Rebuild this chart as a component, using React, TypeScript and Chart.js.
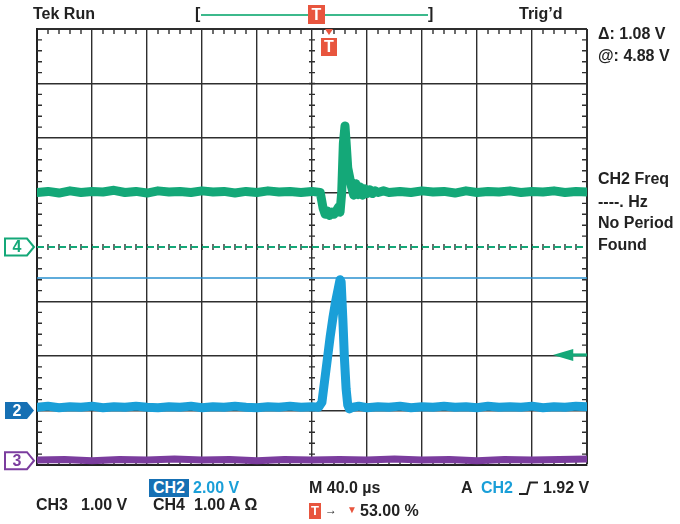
import React, { useEffect, useRef } from "react";
import { Chart, registerables } from "chart.js";

Chart.register(...registerables);

// ---- data (x in horizontal divisions 0..10, y in vertical divisions 0..8) ----
const greenX = [0,0.2,0.4,0.6,0.8,1,1.2,1.4,1.6,1.8,2,2.2,2.4,2.6,2.8,3,3.2,3.4,3.6,3.8,4,4.2,4.4,4.6,4.8,5,
  5.15,5.2,5.24,5.28,5.32,5.36,5.4,5.44,5.48,5.51,
  5.54,5.57,5.6,5.62,5.65,5.68,5.72,5.76,5.8,5.84,5.88,5.92,5.96,6,
  6.05,6.1,6.15,6.2,6.3,6.4,
  6.6,6.8,7,7.2,7.4,7.6,7.8,8,8.2,8.4,8.6,8.8,9,9.2,9.4,9.6,9.8,10];
const greenY = [5.0,5.02,4.99,5.03,5.0,5.02,5.01,5.04,5.0,5.02,4.99,5.03,5.01,5.02,5.0,5.03,5.01,5.02,4.99,5.02,5.0,5.03,5.01,5.02,5.0,5.02,
  5.0,4.72,4.6,4.66,4.58,4.64,4.6,4.66,4.73,4.64,
  5.0,5.9,6.22,5.92,5.45,5.3,5.1,4.95,5.16,4.96,5.1,4.95,5.07,4.98,
  5.05,4.98,5.03,5.0,5.03,5.0,
  5.02,5.0,5.03,5.01,5.02,4.99,5.03,5.0,5.02,5.01,5.03,5.0,5.02,5.01,5.03,5.0,5.02,5.01];

const blueX = [0,0.2,0.4,0.6,0.8,1,1.2,1.4,1.6,1.8,2,2.2,2.4,2.6,2.8,3,3.2,3.4,3.6,3.8,4,4.2,4.4,4.6,4.8,5,
  5.12,5.18,5.23,5.28,5.33,5.38,5.43,5.48,5.51,5.53,5.56,5.59,5.62,5.65,5.68,
  5.75,5.85,6,
  6.2,6.4,6.6,6.8,7,7.2,7.4,7.6,7.8,8,8.2,8.4,8.6,8.8,9,9.2,9.4,9.6,9.8,10];
const blueY = [1.06,1.08,1.05,1.07,1.06,1.08,1.05,1.07,1.06,1.08,1.06,1.05,1.07,1.06,1.08,1.05,1.07,1.06,1.08,1.06,1.05,1.07,1.06,1.08,1.06,1.07,
  1.06,1.15,1.55,1.95,2.35,2.7,3.0,3.25,3.4,3.36,2.7,1.95,1.4,1.1,1.03,
  1.06,1.08,1.05,
  1.07,1.06,1.08,1.05,1.07,1.06,1.08,1.06,1.07,1.05,1.08,1.06,1.07,1.06,1.08,1.05,1.07,1.06,1.08,1.07];

const purpleX = [0,0.5,1,1.5,2,2.5,3,3.5,4,4.5,5,5.5,6,6.5,7,7.5,8,8.5,9,9.5,10];
const purpleY = [0.09,0.1,0.08,0.1,0.09,0.11,0.09,0.1,0.08,0.1,0.09,0.1,0.09,0.11,0.09,0.1,0.08,0.1,0.09,0.1,0.11];

const ch4X = [0, 10];
const ch4Y = [4, 4];
const cursorX = [0, 10];
const cursorY = [3.43, 3.43];

const trigLevel = 2.02;
const trigArrowTip = 9.38;
const trigArrowBase = 9.75;

const markers = [
  { label: "4", level: 4.0, kind: "green" },
  { label: "2", level: 1.0, kind: "blue" },
  { label: "3", level: 0.08, kind: "purple" },
];

// ---- styles ----
const FONT = '"Liberation Sans", Arial, "DejaVu Sans", sans-serif';
const INK = "#222222";
const ORANGE = "#e8553e";
const BLUE = "#1a9fd8";
const BLUE_DARK = "#1670b4";
const GREEN = "#14a878";
const PURPLE = "#7b3d9e";
const GRID = "#2e2e2e";

const pts = (xs: number[], ys: number[]) => xs.map((x, i) => ({ x, y: ys[i] }));

const graticulePlugin = {
  id: "graticule",
  beforeDatasetsDraw(chart: any) {
    const { ctx, chartArea: a, scales } = chart;
    const xs = scales.x, ys = scales.y;
    const cx = xs.getPixelForValue(5);
    const cy = ys.getPixelForValue(4);
    ctx.save();
    ctx.strokeStyle = GRID;
    ctx.lineWidth = 1.4;
    ctx.beginPath();
    for (let i = 1; i < 50; i++) {
      const px = xs.getPixelForValue(i / 5);
      ctx.moveTo(px, cy - 3); ctx.lineTo(px, cy + 3);
      if (i % 5 === 0) continue;
      ctx.moveTo(px, a.top); ctx.lineTo(px, a.top + 5);
      ctx.moveTo(px, a.bottom); ctx.lineTo(px, a.bottom - 5);
    }
    for (let j = 1; j < 40; j++) {
      const py = ys.getPixelForValue(j / 5);
      ctx.moveTo(cx - 3, py); ctx.lineTo(cx + 3, py);
      if (j % 5 === 0) continue;
      ctx.moveTo(a.left, py); ctx.lineTo(a.left + 5, py);
      ctx.moveTo(a.right, py); ctx.lineTo(a.right - 5, py);
    }
    ctx.stroke();
    ctx.restore();
  },
  afterDatasetsDraw(chart: any) {
    const { ctx, scales, chartArea: a } = chart;
    const ys = scales.y, xs = scales.x;
    ctx.save();
    // trigger level arrow (right side)
    const ty = ys.getPixelForValue(trigLevel);
    const tip = xs.getPixelForValue(trigArrowTip);
    const base = xs.getPixelForValue(trigArrowBase);
    ctx.fillStyle = GREEN;
    ctx.beginPath();
    ctx.moveTo(tip, ty);
    ctx.lineTo(base, ty - 6);
    ctx.lineTo(base, ty + 6);
    ctx.closePath();
    ctx.fill();
    ctx.strokeStyle = GREEN;
    ctx.lineWidth = 3;
    ctx.beginPath();
    ctx.moveTo(base - 2, ty);
    ctx.lineTo(a.right, ty);
    ctx.stroke();

    // channel ground markers (left side)
    for (const m of markers) {
      const y = ys.getPixelForValue(m.level);
      const color = m.kind === "green" ? GREEN : m.kind === "blue" ? BLUE_DARK : PURPLE;
      const filled = m.kind === "blue";
      const l = 5, r = 27, tp = 34, h = 8.5;
      ctx.beginPath();
      ctx.moveTo(l, y - h);
      ctx.lineTo(r, y - h);
      ctx.lineTo(tp, y);
      ctx.lineTo(r, y + h);
      ctx.lineTo(l, y + h);
      ctx.closePath();
      if (filled) {
        ctx.fillStyle = color;
        ctx.fill();
      } else {
        ctx.fillStyle = "#ffffff";
        ctx.fill();
        ctx.strokeStyle = color;
        ctx.lineWidth = 2;
        ctx.stroke();
      }
      ctx.fillStyle = filled ? "#ffffff" : color;
      ctx.font = `bold 16px ${FONT}`;
      ctx.textAlign = "center";
      ctx.textBaseline = "middle";
      ctx.fillText(m.label, 17, y + 1);
    }
    ctx.restore();
  },
};

function Txt(props: { x: number; y: number; color?: string; size?: number; children: any }) {
  const { x, y, color = INK, size = 16, children } = props;
  return (
    <div
      style={{
        position: "absolute",
        left: x,
        top: y - 9,
        font: `bold ${size}px ${FONT}`,
        lineHeight: "18px",
        color,
        whiteSpace: "pre",
      }}
    >
      {children}
    </div>
  );
}

function TBox(props: { x: number; y: number; w: number; h: number; size: number }) {
  const { x, y, w, h, size } = props;
  return (
    <div
      style={{
        position: "absolute",
        left: x,
        top: y,
        width: w,
        height: h,
        background: ORANGE,
        color: "#fff",
        font: `bold ${size}px ${FONT}`,
        lineHeight: `${h}px`,
        textAlign: "center",
      }}
    >
      T
    </div>
  );
}

export default function App() {
  const ref = useRef<HTMLCanvasElement | null>(null);

  useEffect(() => {
    if (!ref.current) return;
    const lineDs = (data: any[], color: string, width: number, extra: any = {}) => ({
      data,
      borderColor: color,
      backgroundColor: color,
      borderWidth: width,
      pointRadius: 0,
      tension: 0,
      fill: false,
      borderJoinStyle: "round",
      borderCapStyle: "round",
      ...extra,
    });
    const chart = new Chart(ref.current, {
      type: "line",
      data: {
        datasets: [
          lineDs(pts(greenX, greenY), GREEN, 9),
          lineDs(pts(blueX, blueY), BLUE, 9),
          lineDs(pts(purpleX, purpleY), PURPLE, 7),
          lineDs(pts(ch4X, ch4Y), GREEN, 2, { borderDash: [7, 4], borderCapStyle: "butt" }),
          lineDs(pts(cursorX, cursorY), "#2a90cf", 1.5, { borderCapStyle: "butt" }),
        ] as any,
      },
      options: {
        animation: false,
        responsive: true,
        maintainAspectRatio: false,
        layout: { padding: { left: 37, right: 93, top: 29, bottom: 59 } },
        plugins: { legend: { display: false }, tooltip: { enabled: false } },
        scales: {
          x: {
            type: "linear",
            min: 0,
            max: 10,
            ticks: { display: false, stepSize: 1 },
            grid: {
              color: GRID,
              lineWidth: (c: any) => (c.tick && c.tick.value === 10 ? 2 : 1.4),
              drawTicks: false,
            },
            border: { display: true, color: "#222", width: 2 },
          },
          y: {
            type: "linear",
            min: 0,
            max: 8,
            ticks: { display: false, stepSize: 1 },
            grid: {
              color: (c: any) => (c.tick && c.tick.value === 4 ? "rgba(0,0,0,0)" : GRID),
              lineWidth: (c: any) => (c.tick && c.tick.value === 8 ? 2 : 1.4),
              drawTicks: false,
            },
            border: { display: true, color: "#222", width: 2 },
          },
        },
      } as any,
      plugins: [graticulePlugin],
    });
    return () => chart.destroy();
  }, []);

  return (
    <div style={{ position: "fixed", left: 0, top: 0, width: 680, height: 524, background: "#fff", overflow: "hidden" }}>
      <div style={{ position: "absolute", left: 0, top: 0, width: 680, height: 524 }}>
        <canvas ref={ref} />
      </div>

      {/* top bar */}
      <Txt x={33} y={14}>Tek Run</Txt>
      <Txt x={195} y={14}>[</Txt>
      <div style={{ position: "absolute", left: 201, top: 14, width: 227, height: 2, background: "#3cb98c" }} />
      <Txt x={428} y={14}>]</Txt>
      <TBox x={308} y={5} w={17} h={19} size={16} />
      <Txt x={519} y={14}>Trig’d</Txt>

      {/* trigger position marker */}
      <div
        style={{
          position: "absolute",
          left: 325,
          top: 29,
          width: 0,
          height: 0,
          borderLeft: "4px solid transparent",
          borderRight: "4px solid transparent",
          borderTop: `6px solid ${ORANGE}`,
        }}
      />
      <TBox x={321} y={38} w={16} h={18} size={16} />

      {/* right panel */}
      <Txt x={598} y={34}>Δ: 1.08 V</Txt>
      <Txt x={598} y={56}>@: 4.88 V</Txt>
      <Txt x={598} y={179}>CH2 Freq</Txt>
      <Txt x={598} y={202}>----. Hz</Txt>
      <Txt x={598} y={223}>No Period</Txt>
      <Txt x={598} y={245}>Found</Txt>

      {/* bottom readouts */}
      <div
        style={{
          position: "absolute",
          left: 149,
          top: 479,
          width: 40,
          height: 18,
          background: BLUE_DARK,
          color: "#fff",
          font: `bold 16px ${FONT}`,
          lineHeight: "18px",
          textAlign: "center",
        }}
      >
        CH2
      </div>
      <Txt x={193} y={488} color={BLUE}>2.00 V</Txt>
      <Txt x={309} y={488}>M 40.0 µs</Txt>
      <Txt x={461} y={488}>A</Txt>
      <Txt x={481} y={488} color={BLUE}>CH2</Txt>
      <svg style={{ position: "absolute", left: 519, top: 481 }} width={20} height={15}>
        <polyline points="0,13 8,13 11,1.5 19,1.5" fill="none" stroke={INK} strokeWidth={2} />
      </svg>
      <Txt x={543} y={488}>1.92 V</Txt>

      <Txt x={36} y={505}>CH3</Txt>
      <Txt x={81} y={505}>1.00 V</Txt>
      <Txt x={153} y={505}>CH4</Txt>
      <Txt x={194} y={505}>1.00 A Ω</Txt>

      <TBox x={309} y={503} w={12} h={16} size={13} />
      <Txt x={325} y={510} size={12}>→</Txt>
      <Txt x={347} y={510} size={10} color={ORANGE}>▼</Txt>
      <Txt x={360} y={511}>53.00 %</Txt>
    </div>
  );
}
